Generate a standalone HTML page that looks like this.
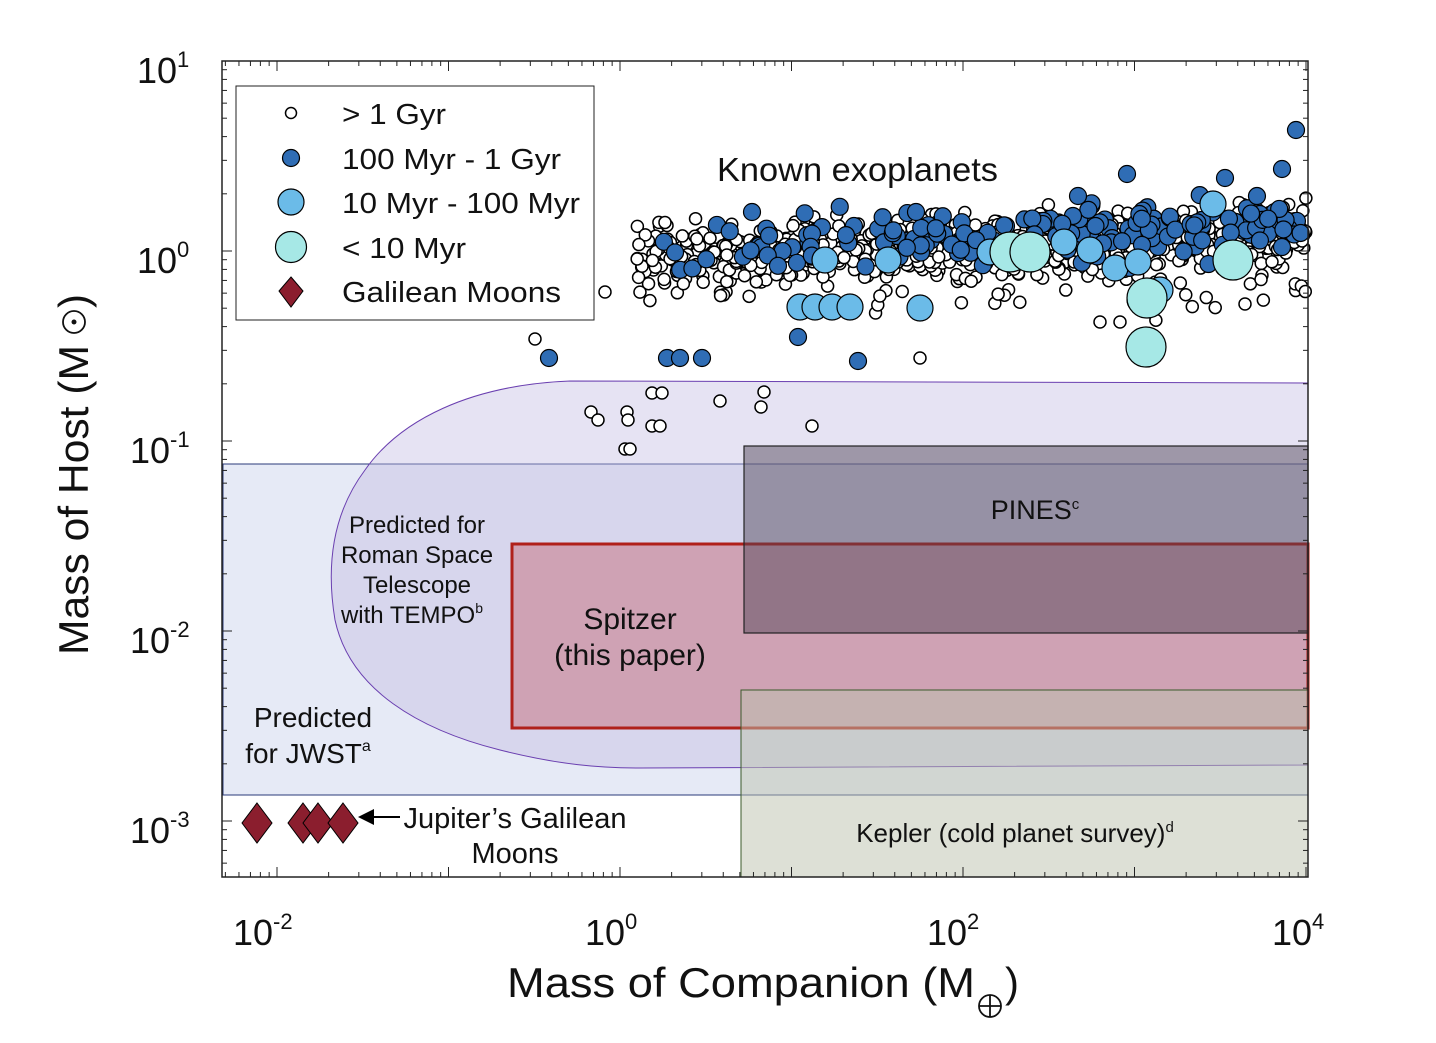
<!DOCTYPE html>
<html><head><meta charset="utf-8"><style>
body{margin:0;background:#fff}
svg{font-family:"Liberation Sans",sans-serif}
</style></head><body>
<svg id="s" width="1436" height="1038" xmlns="http://www.w3.org/2000/svg">
<rect width="1436" height="1038" fill="#fff"/>
<rect x="223" y="464" width="1085" height="331" fill="#c7d0eb" fill-opacity="0.45" stroke="#2a3a7a" stroke-width="1"/>
<path d="M1308,383 L570,381 C470,385 400,420 365,470 C335,510 325,560 335,620 C350,690 420,730 500,750 C560,765 600,768 640,768 L1308,765 Z" fill="#c0b8e0" fill-opacity="0.4" stroke="#6a3fb0" stroke-width="1"/>
<rect x="512" y="544" width="796" height="184" fill="#c97f8e" fill-opacity="0.6" stroke="#b0201a" stroke-width="3"/>
<rect x="744" y="446" width="564" height="187" fill="#504656" fill-opacity="0.48" stroke="#222" stroke-width="1.2"/>
<rect x="741" y="690" width="567" height="187" fill="#bcc2ae" fill-opacity="0.5" stroke="#3a5a2a" stroke-width="1"/>
<g id="pts"></g>
<rect x="222" y="61" width="1086" height="816" fill="none" stroke="#222" stroke-width="1.5"/>
<g id="ticks" stroke="#222" stroke-width="1"></g>
<rect x="236" y="86" width="358" height="234" fill="#fff" stroke="#222" stroke-width="1"/>
<circle cx="291" cy="113" r="5.5" fill="#fff" stroke="#000" stroke-width="1.5"/>
<circle cx="291" cy="158" r="8.5" fill="#2f6db5" stroke="#000" stroke-width="1.2"/>
<circle cx="291" cy="202" r="13" fill="#6bbbe8" stroke="#000" stroke-width="1.2"/>
<circle cx="291" cy="247" r="15.5" fill="#a6e8e6" stroke="#000" stroke-width="1.2"/>
<path d="M291,277 L303,291 L291,307 L279,291 Z" fill="#8b1e2e" stroke="#000" stroke-width="1"/>
<g font-size="29" fill="#111">
<text x="342" y="124" textLength="104" lengthAdjust="spacingAndGlyphs">&gt; 1 Gyr</text>
<text x="342" y="169" textLength="219" lengthAdjust="spacingAndGlyphs">100 Myr - 1 Gyr</text>
<text x="342" y="213" textLength="238" lengthAdjust="spacingAndGlyphs">10 Myr - 100 Myr</text>
<text x="342" y="258" textLength="124" lengthAdjust="spacingAndGlyphs">&lt; 10 Myr</text>
<text x="342" y="302" textLength="219" lengthAdjust="spacingAndGlyphs">Galilean Moons</text>
</g>
<text x="717" y="181" font-size="33" fill="#111" textLength="281" lengthAdjust="spacingAndGlyphs">Known exoplanets</text>
<g font-size="24" fill="#111" text-anchor="middle">
<text x="417" y="533">Predicted for</text>
<text x="417" y="563">Roman Space</text>
<text x="417" y="593">Telescope</text>
<text x="412" y="623">with TEMPO<tspan font-size="14" dy="-10">b</tspan></text>
<text x="313" y="727" font-size="28">Predicted</text>
<text x="308" y="763" font-size="28">for JWST<tspan font-size="16" dy="-12">a</tspan></text>
<text x="630" y="629" font-size="30">Spitzer</text>
<text x="630" y="665" font-size="30">(this paper)</text>
<text x="1035" y="519" font-size="27">PINES<tspan font-size="15" dy="-10">c</tspan></text>
<text x="1015" y="842" font-size="26">Kepler (cold planet survey)<tspan font-size="15" dy="-10">d</tspan></text>
<text x="515" y="828" font-size="29">Jupiter’s Galilean</text>
<text x="515" y="863" font-size="29">Moons</text>
</g>
<path d="M400,817 L372,817" stroke="#000" stroke-width="2"/>
<path d="M358,817 L374,809 L374,825 Z" fill="#000"/>
<g fill="#8b1e2e" stroke="#000" stroke-width="1">
<path d="M257,803 L272,823 L257,843 L242,823 Z"/>
<path d="M303,803 L318,823 L303,843 L288,823 Z"/>
<path d="M318,803 L333,823 L318,843 L303,823 Z"/>
<path d="M343,803 L358,823 L343,843 L328,823 Z"/>
</g>
<g font-size="36" fill="#111">
<text x="137" y="83">10<tspan font-size="22" dy="-16">1</tspan></text>
<text x="137" y="273">10<tspan font-size="22" dy="-16">0</tspan></text>
<text x="130" y="463">10<tspan font-size="22" dy="-16">-1</tspan></text>
<text x="130" y="653">10<tspan font-size="22" dy="-16">-2</tspan></text>
<text x="130" y="843">10<tspan font-size="22" dy="-16">-3</tspan></text>
<text x="233" y="945">10<tspan font-size="22" dy="-16">-2</tspan></text>
<text x="585" y="945">10<tspan font-size="22" dy="-16">0</tspan></text>
<text x="927" y="945">10<tspan font-size="22" dy="-16">2</tspan></text>
<text x="1272" y="945">10<tspan font-size="22" dy="-16">4</tspan></text>
</g>
<text x="507" y="997" font-size="42" fill="#111" textLength="468" lengthAdjust="spacingAndGlyphs">Mass of Companion (M</text>
<text x="1005" y="997" font-size="42" fill="#111">)</text>
<circle cx="990" cy="1006" r="11" fill="none" stroke="#111" stroke-width="1.8"/>
<path d="M979,1006 H1001 M990,995 V1017" stroke="#111" stroke-width="1.8"/>
<g transform="translate(88,655) rotate(-90)">
<text x="0" y="0" font-size="42" fill="#111" textLength="310" lengthAdjust="spacingAndGlyphs">Mass of Host (M</text>
<circle cx="333" cy="-14" r="11" fill="none" stroke="#111" stroke-width="1.8"/>
<circle cx="333" cy="-14" r="2.5" fill="#111"/>
<text x="347" y="0" font-size="42" fill="#111">)</text>
</g>
</svg>
<script>
var NS="http://www.w3.org/2000/svg";
function X(l){return 620+171.5*l}
function Y(l){return 251-190*l}
var seed=7;function R(){seed=(seed*16807)%2147483647;return seed/2147483647}
function G(){return (R()+R()+R()-1.5)*1.4}
var g=document.getElementById('pts');
function c(x,y,r,f){var e=document.createElementNS(NS,'circle');e.setAttribute('cx',x);e.setAttribute('cy',y);e.setAttribute('r',r);e.setAttribute('fill',f);e.setAttribute('stroke','#000');e.setAttribute('stroke-width',r<7?1.5:1.2);g.appendChild(e)}
for(var i=0;i<900;i++){var lx=0.1+Math.pow(R(),0.8)*3.9;var ly=-0.03+0.1*lx/4+G()*0.11;if(R()<0.1)ly-=R()*0.25;c(X(lx),Y(ly),6,'#fff')}
var extra=[[535,339],[591,412],[598,420],[627,412],[628,420],[652,393],[662,393],[625,449],[630,449],[652,426],[660,426],[720,401],[764,392],[761,407],[812,426],[920,358],[605,292],[1245,304],[1100,322],[1120,322]];
for(var i=0;i<extra.length;i++)c(extra[i][0],extra[i][1],6,'#fff');
for(var i=0;i<170;i++){var lx=0.2+Math.pow(R(),0.7)*3.8;var ly=0.0+0.15*lx/4+G()*0.11;c(X(lx),Y(ly),8.5,'#2f6db5')}
[[549,358],[667,358],[680,358],[702,358],[858,361],[798,337],[752,212],[916,212],[1296,130],[1282,169],[1127,174],[1078,196],[1225,178]].forEach(function(p){c(p[0],p[1],8.5,'#2f6db5')});
[[825,260],[888,260],[800,307],[815,307],[832,307],[850,307],[920,308],[990,252],[1064,242],[1090,250],[1115,268],[1138,262],[1140,300],[1160,290],[1213,204]].forEach(function(p){c(p[0],p[1],13,'#6bbbe8')});
[[1010,252],[1030,252],[1147,298],[1146,347],[1233,260]].forEach(function(p){c(p[0],p[1],20,'#a6e8e6')});
var t=document.getElementById('ticks'),s='';
function ln(a,b,c2,d){s+='<line x1="'+a+'" y1="'+b+'" x2="'+c2+'" y2="'+d+'"/>'}
for(var d=-3;d<=4;d++)for(var k=1;k<10;k++){var x=X(d+Math.log10(k));if(x<222||x>1308)continue;var L=k==1?10:5;ln(x,877,x,877-L);ln(x,61,x,61+L)}
for(var d=-4;d<=1;d++)for(var k=1;k<10;k++){var y=Y(d+Math.log10(k));if(y<61||y>877)continue;var L=k==1?10:5;ln(222,y,222+L,y);ln(1308,y,1308-L,y)}
t.innerHTML=s;
</script>
</body></html>
